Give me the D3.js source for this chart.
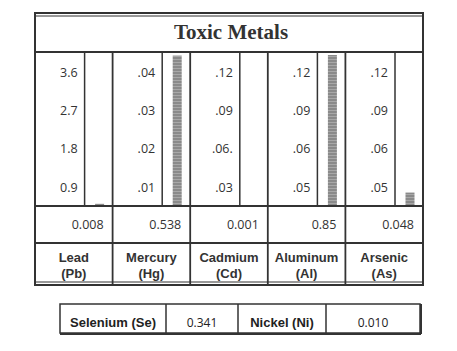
<!DOCTYPE html>
<html><head><meta charset="utf-8">
<script src="https://cdn.jsdelivr.net/npm/d3@7"></script>
<style>html,body{margin:0;padding:0;background:#fff;}svg{display:block;}</style>
</head><body>
<script>
const title = "Toxic Metals";
const metals = ["Lead", "Mercury", "Cadmium", "Aluminum", "Arsenic"];
const symbols = ["(Pb)", "(Hg)", "(Cd)", "(Al)", "(As)"];
const values = [0.008, 0.538, 0.001, 0.85, 0.048];
const valueLabels = ["0.008", "0.538", "0.001", "0.85", "0.048"];
const tickLabels = [
  ["3.6", "2.7", "1.8", "0.9"],
  [".04", ".03", ".02", ".01"],
  [".12", ".09", ".06.", ".03"],
  [".12", ".09", ".06", ".05"],
  [".12", ".09", ".06", ".05"]
];
const extraNames = ["Selenium (Se)", "Nickel (Ni)"];
const extraValues = ["0.341", "0.010"];

const W = 457, H = 351;
const svg = d3.select("body").append("svg").attr("width", W).attr("height", H);
const ink = "#333";

// layout
const L = 35, R = 423, T = 13, titleB = 52, base = 206, valB = 243, B = 285;
const x = d3.scaleBand().domain(metals).range([L, R]);
const y = d3.scaleLinear().domain([0, 0.54]).range([base, 55]).clamp(true);
const tickY = d3.scalePoint().range([72, 187]);

// stripe pattern for bars
const defs = svg.append("defs");
const pat = defs.append("pattern").attr("id", "stripe").attr("patternUnits", "userSpaceOnUse")
  .attr("width", 4).attr("height", 3);
pat.append("rect").attr("width", 4).attr("height", 3).attr("fill", "#8a8a8a");
pat.append("rect").attr("y", 2).attr("width", 4).attr("height", 1).attr("fill", "#a8a8a8");

// title
svg.append("text").attr("x", (L + R) / 2 + 2).attr("y", 39).attr("text-anchor", "middle")
  .attr("font-family", "Liberation Serif, serif").attr("font-weight", "bold").attr("font-size", 21)
  .attr("fill", "#333").text(title);

// columns
const cols = svg.append("g").selectAll("g").data(metals).join("g");
cols.each(function(m, i) {
  const g = d3.select(this);
  const x0 = x(m), x1 = x0 + x.bandwidth();
  const inner = x1 - 28;
  // tick labels via point scale
  const ts = tickY.copy().domain(tickLabels[i]);
  const ax = d3.axisLeft(ts).tickSize(0).tickPadding(7);
  const ag = g.append("g").attr("transform", `translate(${inner},0)`).call(ax);
  ag.select(".domain").remove();
  ag.selectAll("text").attr("font-family", "Open Sans, sans-serif").attr("font-size", 12.5).attr("fill", "#333");
  // inner line
  g.append("line").attr("x1", inner).attr("x2", inner).attr("y1", titleB).attr("y2", base)
    .attr("stroke", ink).attr("stroke-width", 1.5);
  // bar
  const cx = (inner + x1) / 2 + 1;
  g.append("rect").attr("x", cx - 4.5).attr("width", 9)
    .attr("y", y(values[i])).attr("height", base - y(values[i]))
    .attr("fill", "url(#stripe)");
  // value label
  g.append("text").attr("x", x1 - 9).attr("y", 229).attr("text-anchor", "end")
    .attr("font-family", "Open Sans, sans-serif").attr("font-size", 12.5).attr("fill", "#333")
    .text(valueLabels[i]);
  // name labels
  const lab = g.append("text").attr("text-anchor", "middle")
    .attr("font-family", "Liberation Sans, sans-serif").attr("font-weight", "bold")
    .attr("font-size", 13).attr("fill", "#333");
  lab.append("tspan").attr("x", (x0 + x1) / 2).attr("y", 262).text(m);
  lab.append("tspan").attr("x", (x0 + x1) / 2).attr("y", 278).text(symbols[i]);
  // column divider
  if (i > 0) {
    g.append("line").attr("x1", x0).attr("x2", x0).attr("y1", titleB).attr("y2", B)
      .attr("stroke", ink).attr("stroke-width", 1.8);
  }
});

// horizontal rules
const hl = (yy, w) => svg.append("line").attr("x1", L).attr("x2", R).attr("y1", yy).attr("y2", yy)
  .attr("stroke", ink).attr("stroke-width", w);
hl(titleB, 2.2);
hl(base, 2.2);
hl(valB, 2);
hl(T + 3, 1);
hl(B - 3, 1);
svg.append("rect").attr("x", L).attr("y", T).attr("width", R - L).attr("height", B - T)
  .attr("fill", "none").attr("stroke", ink).attr("stroke-width", 2);

// bottom table
const tb = svg.append("g");
const tL = 60, tR = 420, tT = 304, tB = 333;
const cells = [tL, 166, 238, 326, tR];
const texts = [extraNames[0], extraValues[0], extraNames[1], extraValues[1]];
texts.forEach((t, i) => {
  const bold = i % 2 === 0;
  tb.append("text").attr("x", (cells[i] + cells[i + 1]) / 2).attr("y", 327)
    .attr("text-anchor", "middle")
    .attr("font-family", bold ? "Liberation Sans, sans-serif" : "Open Sans, sans-serif")
    .attr("font-weight", bold ? "bold" : "normal")
    .attr("font-size", bold ? 13 : 12).attr("fill", "#222").text(t);
  if (i > 0) tb.append("line").attr("x1", cells[i]).attr("x2", cells[i]).attr("y1", tT).attr("y2", tB)
    .attr("stroke", ink).attr("stroke-width", 1.5);
});
tb.append("rect").attr("x", tL).attr("y", tT).attr("width", tR - tL).attr("height", tB - tT)
  .attr("fill", "none").attr("stroke", ink).attr("stroke-width", 1.5);
tb.append("line").attr("x1", tL).attr("x2", tR + 1).attr("y1", tB + 1).attr("y2", tB + 1)
  .attr("stroke", ink).attr("stroke-width", 2);
tb.append("line").attr("x1", tR + 1).attr("x2", tR + 1).attr("y1", tT).attr("y2", tB + 1)
  .attr("stroke", ink).attr("stroke-width", 2);
</script>
</body></html>
